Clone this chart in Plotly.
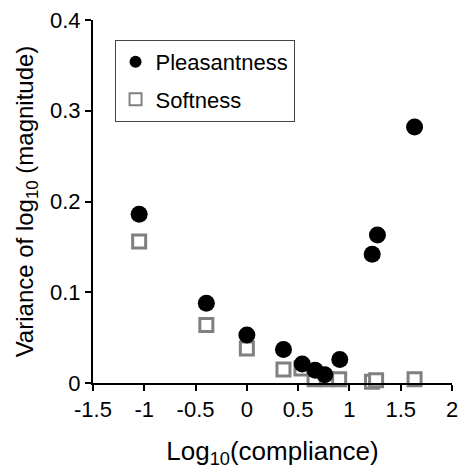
import plotly.graph_objects as go

# Data
compliance_p = [-1.05, -0.395, 0.0, 0.357, 0.54, 0.666, 0.76, 0.906, 1.222, 1.273, 1.635]
pleasantness = [0.186, 0.088, 0.053, 0.037, 0.021, 0.014, 0.009, 0.026, 0.142, 0.163, 0.282]
compliance_s = [-1.05, -0.395, 0.0, 0.357, 0.532, 0.66, 0.78, 0.90, 1.22, 1.26, 1.635]
softness = [0.156, 0.064, 0.038, 0.015, 0.016, 0.004, 0.004, 0.004, 0.0015, 0.003, 0.004]

x_ticks = [-1.5, -1, -0.5, 0, 0.5, 1, 1.5, 2]
x_tick_labels = ["-1.5", "-1", "-0.5", "0", "0.5", "1", "1.5", "2"]
y_ticks = [0, 0.1, 0.2, 0.3, 0.4]
y_tick_labels = ["0", "0.1", "0.2", "0.3", "0.4"]

FONT = "Liberation Sans, Arial, sans-serif"

fig = go.Figure()
fig.add_trace(go.Scatter(
    x=compliance_s, y=softness, mode="markers", name="Softness",
    legendgroup="s", legendrank=2,
    marker=dict(symbol="square", size=13, color="white",
                line=dict(color="#808080", width=3)),
    cliponaxis=False,
))
fig.add_trace(go.Scatter(
    x=compliance_p, y=pleasantness, mode="markers", name="Pleasantness",
    legendgroup="p", legendrank=1,
    marker=dict(symbol="circle", size=17, color="black", line=dict(width=0)),
    cliponaxis=False,
))

fig.update_layout(
    width=466, height=474,
    margin=dict(l=93, r=8, t=19, b=91),
    paper_bgcolor="white", plot_bgcolor="white",
    font=dict(family=FONT, color="black", size=22),
    showlegend=True,
    legend=dict(
        x=0.06, y=0.945, xanchor="left", yanchor="top",
        bordercolor="#444444", borderwidth=1, bgcolor="white",
        font=dict(size=22, family=FONT),
        traceorder="grouped", tracegroupgap=6,
        itemsizing="constant", itemwidth=30,
    ),
    xaxis=dict(
        range=[-1.5, 2], tickvals=x_ticks, ticktext=x_tick_labels,
        showgrid=False, zeroline=False, showline=True, linecolor="black", linewidth=2,
        ticks="outside", ticklen=6, tickwidth=2, tickcolor="black",
        tickfont=dict(size=22, family=FONT),
        title=dict(text="Log<sub>10</sub>(compliance)", font=dict(size=26, family=FONT), standoff=20),
    ),
    yaxis=dict(
        range=[0, 0.4], tickvals=y_ticks, ticktext=y_tick_labels,
        showgrid=False, zeroline=False, showline=True, linecolor="black", linewidth=2,
        ticks="outside", ticklen=6, tickwidth=2, tickcolor="black",
        tickfont=dict(size=22, family=FONT),
        title=dict(text="Variance of log<sub>10</sub> (magnitude)", font=dict(size=24, family=FONT), standoff=10),
    ),
)

fig.write_html("out.html")
